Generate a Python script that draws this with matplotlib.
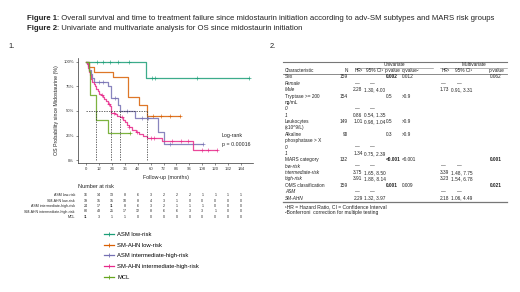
import numpy as np
import matplotlib
matplotlib.use("Agg")
import matplotlib.pyplot as plt
from matplotlib.lines import Line2D
from matplotlib.transforms import blended_transform_factory

plt.rcParams["font.family"] = ["Liberation Sans", "DejaVu Sans"]

# ---- KM data (months, % surviving) ----
groups = ["ASM low-risk", "SM-AHN low-risk", "ASM intermediate-high-risk",
          "SM-AHN intermediate-high-risk", "MCL"]
colors = ["#1B9E77", "#D95F02", "#7570B3", "#E7298A", "#66A61E"]

asm_low_t = [0, 55.5, 151]
asm_low_s = [100, 83.3, 83.3]
asm_low_c = [10, 16, 22, 30, 40, 61, 64, 103, 151]

ahn_low_t = [0, 3, 7, 25, 39, 49, 56.5, 87.5]
ahn_low_s = [100, 94.7, 89.5, 84.2, 64, 56.3, 44.4, 44.4]
ahn_low_c = [62, 70, 78, 87.5]

asm_int_t = [0, 1.5, 3, 4.5, 6, 7.5, 20.5, 23, 30, 31.6, 45.6, 67, 72.5, 109]
asm_int_s = [100, 95.8, 91.7, 87.5, 83.3, 79.2, 75, 63.6, 56, 50, 42.7, 28.9, 16, 16]
asm_int_c = [12, 16, 27, 38, 52, 58, 78, 109]

ahn_int_t = [0, 1, 2, 3, 4, 5, 6, 7, 8, 9.5, 11, 12.5, 14, 15.5, 17, 19, 20.5,
             22, 22.8, 23.3, 27, 29, 32, 34, 36, 38, 40, 43, 46, 49, 53, 57,
             71, 99, 122]
ahn_int_s = [100, 97.5, 93.8, 90, 86.3, 82.5, 80, 77.5, 75, 72.5, 70, 67.5,
             66, 64.2, 62.4, 60, 57.6, 55.2, 52.8, 48, 46.5, 45, 43.5, 41,
             38.5, 36, 33.5, 31, 28.5, 26.5, 24.5, 22.2, 19.7, 10.2, 10.2]
ahn_int_c = [15, 21, 26, 33, 40, 47, 60, 63, 80, 88, 95, 108, 113, 122]

mcl_t = [0, 2.5, 3.7, 9.5, 20, 41]
mcl_s = [100, 90.9, 66, 40.9, 27.3, 27.3]
mcl_c = [41]

curves = [(asm_low_t, asm_low_s, asm_low_c), (ahn_low_t, ahn_low_s, ahn_low_c),
          (asm_int_t, asm_int_s, asm_int_c), (ahn_int_t, ahn_int_s, ahn_int_c),
          (mcl_t, mcl_s, mcl_c)]

months = [0, 12, 24, 36, 48, 60, 72, 84, 96, 108, 120, 132, 144]
at_risk = [
    [16, 14, 13, 8, 6, 3, 2, 2, 2, 1, 1, 1, 1],
    [19, 15, 15, 10, 8, 4, 3, 1, 0, 0, 0, 0, 0],
    [24, 17, 11, 8, 6, 3, 2, 1, 1, 1, 0, 0, 0],
    [80, 43, 25, 17, 12, 8, 6, 6, 3, 3, 1, 0, 0],
    [11, 3, 1, 1, 0, 0, 0, 0, 0, 0, 0, 0, 0],
]

# ---- table data ----
row_labels = ["Sex", "Female", "Male", "Tryptase >= 200", "ng/mL", "0", "1",
              "Leukocytes", "(x10^9/L)", "Alkaline", "phosphatase > X", "0", "1",
              "MARS category", "low-risk", "intermediate-risk", "high-risk",
              "OMS classification", "ASM", "SM-AHN"]
level_rows = [1, 2, 5, 6, 11, 12, 14, 15, 16, 18, 19]
n_col = ["159", "", "", "154", "", "", "", "149", "", "90", "", "", "",
         "132", "", "", "", "159", "", ""]
hr_col = ["", "—", "2.28", "", "", "—", "0.86", "1.01", "", "", "", "—", "1.34",
          "", "—", "3.75", "3.91", "", "—", "2.29"]
ci_col = ["", "—", "1.30, 4.00", "", "", "—", "0.54, 1.35", "0.98, 1.04", "", "",
          "", "—", "0.75, 2.39", "", "—", "1.65, 8.50", "1.88, 8.14", "", "—",
          "1.32, 3.97"]
p_col = ["0.002", "", "", "0.5", "", "", "", "0.5", "", "0.3", "", "", "",
         "<0.001", "", "", "", "0.001", "", ""]
q_col = ["0.012", "", "", ">0.9", "", "", "", ">0.9", "", ">0.9", "", "", "",
         "<0.001", "", "", "", "0.009", "", ""]
mhr_col = ["", "—", "1.73", "", "", "", "", "", "", "", "", "", "",
           "", "—", "3.39", "3.23", "", "—", "2.18"]
mci_col = ["", "—", "0.91, 3.31", "", "", "", "", "", "", "", "", "", "",
           "", "—", "1.48, 7.75", "1.54, 6.78", "", "—", "1.06, 4.49"]
mp_col = ["0.062", "", "", "", "", "", "", "", "", "", "", "", "",
          "0.001", "", "", "", "0.021", "", ""]
bold_cells = {("p", 0), ("p", 13), ("p", 17), ("mp", 13), ("mp", 17)}

W, H = 520, 292
fig = plt.figure(figsize=(W / 100, H / 100), dpi=100)
bg = fig.add_axes([0, 0, 1, 1])
bg.set_xlim(0, W)
bg.set_ylim(H, 0)
bg.axis("off")

# captions
TXT = "#222222"
cap = [("Figure 1", ": Overall survival and time to treatment failure since midostaurin "
        "initiation according to adv-SM subtypes and MARS risk groups", 19),
       ("Figure 2", ": Univariate and multivariate analysis for OS since midostaurin initiation", 28)]
for b, rest, y in cap:
    t = bg.text(27, y, b, fontsize=5.6, fontweight="bold", va="center", color=TXT)
    bg.annotate(rest, xy=(1, 0.5), xycoords=t, va="center", fontsize=5.6, color=TXT)
bg.text(8, 46, "1.", fontsize=5.4, va="center", color=TXT)
bg.text(270, 47, "2.", fontsize=5.4, va="center", color=TXT)

# ---- KM axes ----
l, r, top, bot = 78, 253, 58, 163
ax = fig.add_axes([l / W, 1 - bot / H, (r - l) / W, (bot - top) / H])
ax.set_xlim(-7.4, 155)
ax.set_ylim(-3, 104)
for s in ["top", "right"]:
    ax.spines[s].set_visible(False)
for s in ["left", "bottom"]:
    ax.spines[s].set_linewidth(0.5)
    ax.spines[s].set_color("#333333")
ax.set_xticks(months)
ax.set_yticks([0, 25, 50, 75, 100])
ax.set_yticklabels(["0%", "25%", "50%", "75%", "100%"])
ax.tick_params(labelsize=3.1, length=1.5, width=0.4, pad=1.2, colors="#333333")
ax.set_xlabel("Follow-up (months)", fontsize=3.8, labelpad=3, color=TXT)
ax.set_ylabel("OS Probability since Midostaurine (%)", fontsize=3.8, labelpad=3, color=TXT)

medians = []
for (t, s, c), col in zip(curves, colors):
    ax.step(t, s, where="post", color=col, lw=0.9, alpha=0.85)
    idx = np.searchsorted(t, c, side="right") - 1
    ax.plot(c, np.array(s)[idx], "+", color=col, ms=2.5, mew=0.5, alpha=0.85)
    below = [tt for tt, ss in zip(t, s) if ss <= 50]
    if below:
        medians.append(below[0])
ls = (0, (2, 1.6))
ax.plot([0, max(medians)], [50, 50], color="#333333", lw=0.5, ls=ls)
for m in medians:
    ax.plot([m, m], [0, 50], color="#333333", lw=0.5, ls=ls)
ax.text(126, 25.5, "Log-rank", fontsize=3.8, va="center", color=TXT)
ax.text(126, 16.3, "p = 0.00016", fontsize=3.8, va="center", color=TXT)

# number at risk
tr = blended_transform_factory(ax.transData, bg.transData)
bg.text(78, 187, "Number at risk", fontsize=4.0, va="center", color=TXT)
risk_y = [195, 200.5, 206, 211.5, 217]
for g, row, y in zip(groups, at_risk, risk_y):
    bg.text(75, y, g, fontsize=2.6, ha="right", va="center", color=TXT)
    for m, n in zip(months, row):
        bg.text(m, y, str(n), fontsize=2.6, ha="center", va="center",
                color=TXT, transform=tr)

handles = [Line2D([], [], color=c, lw=0.9, marker="+", ms=3, mew=0.6) for c in colors]
fig.legend(handles, groups, loc="upper left", bbox_to_anchor=(104 / W, 1 - 232 / H),
           frameon=False, fontsize=4.2, labelspacing=0.95, handlelength=1.7,
           handletextpad=0.6, borderaxespad=0, borderpad=0)

# ---- table ----
FS = 3.4
tx0, tx1 = 283, 507
row_y0, row_dy = 77, 6.37
bg.plot([tx0, tx1], [62, 62], color="#777777", lw=0.8)
bg.plot([355, 433], [67.6, 67.6], color="#777777", lw=0.4)
bg.plot([440, tx1], [67.6, 67.6], color="#777777", lw=0.4)
bg.plot([tx0, tx1], [74, 74], color="#777777", lw=0.6)
bg.text(394, 65, "Univariate", fontsize=FS, ha="center", va="center", color=TXT)
bg.text(474, 65, "Multivariate", fontsize=FS, ha="center", va="center", color=TXT)
hdr = [(285, "Characteristic", "left"), (348, "N", "right"), (355, "HR¹", "left"),
       (366, "95% CI¹", "left"), (385, "p-value", "left"), (402, "q-value²", "left"),
       (442, "HR¹", "left"), (455, "95% CI¹", "left"), (489, "p-value", "left")]
for x, s, ha in hdr:
    bg.text(x, 70.8, s, fontsize=FS, va="center", ha=ha, color=TXT)

# (key, x, align, values)
cols = [("n", 348, "right", n_col), ("hr", 362.5, "right", hr_col),
        ("ci", 364.5, "left", ci_col), ("p", 386, "left", p_col),
        ("q", 402, "left", q_col), ("mhr", 449, "right", mhr_col),
        ("mci", 451, "left", mci_col), ("mp", 490, "left", mp_col)]
for i, lab in enumerate(row_labels):
    y = row_y0 + i * row_dy
    bg.text(285, y, lab, fontsize=FS, va="center", color=TXT,
            style="italic" if i in level_rows else "normal")
    for key, x, ha, vals in cols:
        v = vals[i]
        if not v:
            continue
        xx, hh = x, ha
        if v == "—":
            xx, hh = (x - 3, "right") if ha == "right" else (x + 6, "left")
        bg.text(xx, y, v, fontsize=FS, va="center", ha=hh, color=TXT,
                fontweight="bold" if (key, i) in bold_cells else "normal")
y_end = row_y0 + (len(row_labels) - 1) * row_dy + 3.8
bg.plot([tx0, tx1], [y_end, y_end], color="#777777", lw=0.9)
bg.text(285, y_end + 4.5, "¹HR = Hazard Ratio, CI = Confidence Interval", fontsize=3.6,
        va="center", color=TXT)
bg.text(285, y_end + 11, "²Bonferroni  correction for multiple testing", fontsize=3.6,
        va="center", color=TXT)

fig.savefig("out.png", dpi=100)
